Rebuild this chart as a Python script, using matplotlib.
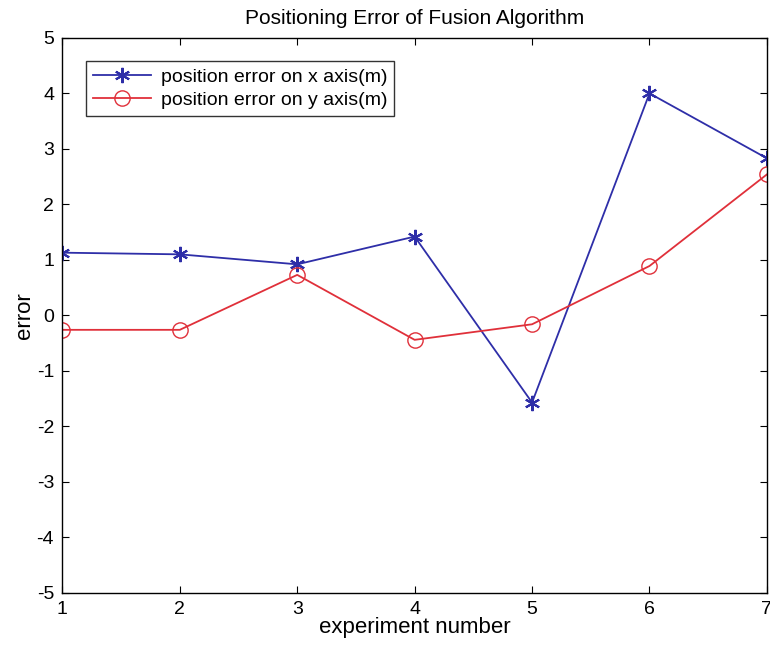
import numpy as np
import matplotlib.pyplot as plt

plt.rcParams['font.family'] = ['Liberation Sans', 'DejaVu Sans']
plt.rcParams['axes.unicode_minus'] = False

OUT_FILE = 'out.png'

# 実験番号と誤差
experiment = [1, 2, 3, 4, 5, 6, 7]
err_x = [1.13, 1.10, 0.92, 1.42, -1.57, 4.00, 2.83]
err_y = [-0.26, -0.26, 0.73, -0.44, -0.16, 0.89, 2.54]

fig = plt.figure(figsize=(7.7, 6.64), dpi=100)
ax = fig.add_axes([0.081, 0.107, 0.915, 0.836])

ax.plot(experiment, err_x, color='#2e2ea8', marker=(6, 2, 0), markersize=11,
        markeredgewidth=1.5, linewidth=1.3, label='position error on x axis(m)')
ax.plot(experiment, err_y, color='#e0303a', marker='o', markersize=11,
        markerfacecolor='none', linewidth=1.3, label='position error on y axis(m)')

ax.set_xlim(1, 7)
ax.set_ylim(-5, 5)
ax.set_xticks(experiment)
ax.set_yticks(np.arange(-5, 6, 1))
ax.tick_params(direction='in', top=True, right=True, labelsize=14, length=5, pad=6)
for s in ax.spines.values():
    s.set_linewidth(1.0)

ax.set_title('Positioning Error of Fusion Algorithm', fontsize=15, pad=10)
ax.set_xlabel('experiment number', fontsize=16, labelpad=-1)
ax.set_ylabel('error', fontsize=16, labelpad=1)

leg = ax.legend(loc='upper left', fontsize=14, frameon=True, fancybox=False,
                edgecolor='black', borderaxespad=1.2, handlelength=3,
                borderpad=0.35, labelspacing=0.3, handletextpad=0.5)
leg.get_frame().set_linewidth(1.0)

fig.savefig(OUT_FILE)
